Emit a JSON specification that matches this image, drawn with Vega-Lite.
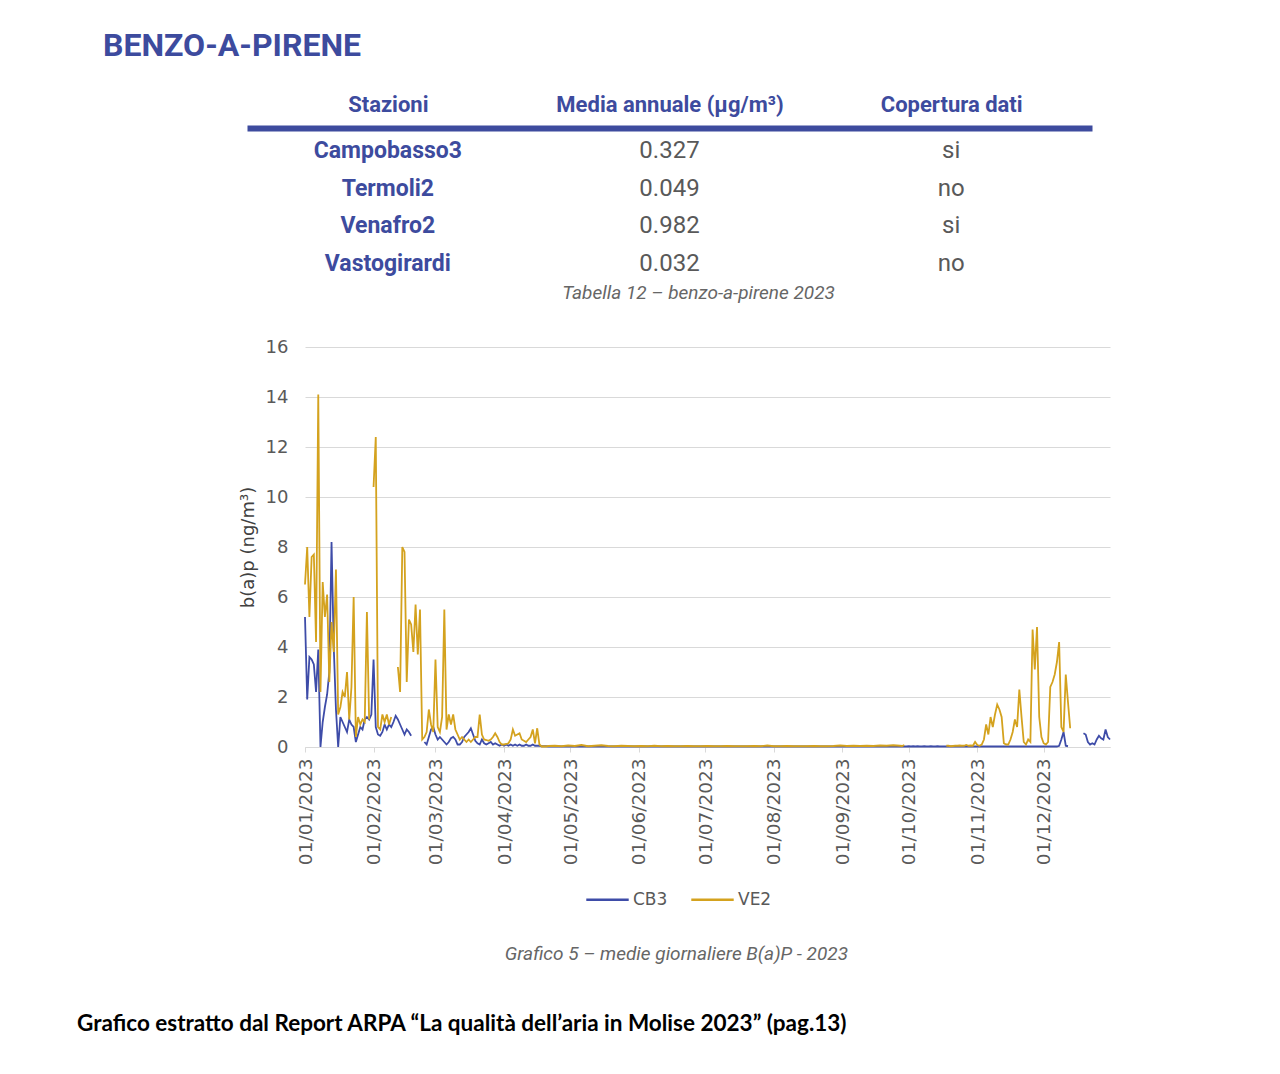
{
  "$schema": "https://vega.github.io/schema/vega-lite/v6.json",
  "background": "white",
  "padding": {"left": 77, "top": 30, "right": 20, "bottom": 20},
  "title": {
    "text": "Grafico estratto dal Report ARPA “La qualità dell’aria in Molise 2023” (pag.13)",
    "orient": "bottom", "anchor": "start", "font": "Lato", "fontWeight": "bold",
    "fontSize": 22.5, "color": "#000000", "offset": 49, "dx": -26
  },
  "vconcat": [
    {
      "title": {
        "text": "BENZO-A-PIRENE", "anchor": "start", "font": "Roboto", "fontWeight": "bold",
        "fontSize": 32, "color": "#3d4b9e", "dx": -136, "offset": 30
      },
      "columns": 1,
      "spacing": 35,
      "align": "none",
      "resolve": {"scale": {"color": "independent"}, "legend": {"color": "independent"}},
      "concat": [
        {
          "width": 787,
          "height": 159,
          "title": {
            "text": "Tabella 12 – benzo-a-pirene 2023", "orient": "bottom", "anchor": "middle",
            "font": "Roboto", "fontStyle": "italic", "fontWeight": "normal", "fontSize": 19,
            "color": "#666666", "offset": -3
          },
          "data": {"values": [
            {"Stazioni": "Campobasso3", "Media annuale (µg/m³)": "0.327", "Copertura dati": "si"},
            {"Stazioni": "Termoli2", "Media annuale (µg/m³)": "0.049", "Copertura dati": "no"},
            {"Stazioni": "Venafro2", "Media annuale (µg/m³)": "0.982", "Copertura dati": "si"},
            {"Stazioni": "Vastogirardi", "Media annuale (µg/m³)": "0.032", "Copertura dati": "no"}
          ]},
          "transform": [{"fold": ["Stazioni", "Media annuale (µg/m³)", "Copertura dati"], "as": ["colonna", "valore"]}],
          "encoding": {
            "x": {
              "field": "colonna", "type": "nominal",
              "sort": ["Stazioni", "Media annuale (µg/m³)", "Copertura dati"],
              "scale": {"type": "point", "padding": 0.5, "range": [-58, 787]},
              "axis": {
                "orient": "top", "title": null, "labelAngle": 0, "ticks": false, "grid": false,
                "domainWidth": 6, "domainColor": "#3d4b9e", "labelColor": "#3d4b9e", "labelLimit": 500,
                "labelFont": "Roboto", "labelFontWeight": "bold", "labelFontSize": 22, "labelPadding": 12
              }
            },
            "y": {"field": "Stazioni", "type": "nominal", "sort": null, "scale": {"type": "point", "padding": 0.61}, "axis": null},
            "text": {"field": "valore"}
          },
          "layer": [
            {
              "transform": [{"filter": "datum.colonna === 'Stazioni'"}],
              "mark": {"type": "text", "font": "Roboto", "fontWeight": "bold", "fontSize": 23, "color": "#3d4b9e"}
            },
            {
              "transform": [{"filter": "datum.colonna !== 'Stazioni'"}],
              "mark": {"type": "text", "font": "Roboto", "fontWeight": "normal", "fontSize": 24, "color": "#595959"}
            }
          ]
        },
        {
          "title": {
            "text": "Grafico 5 – medie giornaliere B(a)P - 2023", "orient": "bottom", "anchor": "middle",
            "font": "Roboto", "fontStyle": "italic", "fontWeight": "normal", "fontSize": 19,
            "color": "#666666", "offset": 37
          },
          "resolve": {"scale": {"color": "independent"}, "legend": {"color": "independent"}},
          "vconcat": [
            {
              "width": 805,
              "height": 400,
              "data": {"values": [
                {"d":"2023-01-01","CB3":5.2,"VE2":6.5},
                {"d":"2023-01-02","CB3":1.9,"VE2":8.0},
                {"d":"2023-01-03","CB3":3.6,"VE2":5.2},
                {"d":"2023-01-04","CB3":3.5,"VE2":7.6},
                {"d":"2023-01-05","CB3":3.3,"VE2":7.7},
                {"d":"2023-01-06","CB3":2.2,"VE2":4.2},
                {"d":"2023-01-07","CB3":3.9,"VE2":14.1},
                {"d":"2023-01-08","CB3":0.0,"VE2":2.2},
                {"d":"2023-01-09","CB3":1.0,"VE2":6.6},
                {"d":"2023-01-10","CB3":1.6,"VE2":5.2},
                {"d":"2023-01-11","CB3":2.1,"VE2":6.1},
                {"d":"2023-01-12","CB3":3.0,"VE2":2.6},
                {"d":"2023-01-13","CB3":8.2,"VE2":5.0},
                {"d":"2023-01-14","CB3":4.0,"VE2":3.8},
                {"d":"2023-01-15","CB3":1.5,"VE2":7.1},
                {"d":"2023-01-16","CB3":0.0,"VE2":1.3},
                {"d":"2023-01-17","CB3":1.2,"VE2":1.6},
                {"d":"2023-01-18","CB3":1.0,"VE2":2.2},
                {"d":"2023-01-19","CB3":0.8,"VE2":2.0},
                {"d":"2023-01-20","CB3":0.6,"VE2":3.0},
                {"d":"2023-01-21","CB3":1.1,"VE2":1.1},
                {"d":"2023-01-22","CB3":0.9,"VE2":2.4},
                {"d":"2023-01-23","CB3":0.8,"VE2":6.0},
                {"d":"2023-01-24","CB3":0.2,"VE2":0.4},
                {"d":"2023-01-25","CB3":0.5,"VE2":1.2},
                {"d":"2023-01-26","CB3":0.8,"VE2":0.9},
                {"d":"2023-01-27","CB3":0.7,"VE2":1.1},
                {"d":"2023-01-28","CB3":1.1,"VE2":1.0},
                {"d":"2023-01-29","CB3":1.2,"VE2":5.4},
                {"d":"2023-01-30","CB3":1.1,"VE2":1.1},
                {"d":"2023-01-31","CB3":1.3,"VE2":null},
                {"d":"2023-02-01","CB3":3.5,"VE2":10.4},
                {"d":"2023-02-02","CB3":0.8,"VE2":12.4},
                {"d":"2023-02-03","CB3":0.5,"VE2":0.8},
                {"d":"2023-02-04","CB3":0.45,"VE2":0.7},
                {"d":"2023-02-05","CB3":0.6,"VE2":1.3},
                {"d":"2023-02-06","CB3":0.9,"VE2":1.0},
                {"d":"2023-02-07","CB3":0.7,"VE2":1.3},
                {"d":"2023-02-08","CB3":0.9,"VE2":0.9},
                {"d":"2023-02-09","CB3":0.8,"VE2":1.2},
                {"d":"2023-02-10","CB3":1.0,"VE2":null},
                {"d":"2023-02-11","CB3":1.25,"VE2":null},
                {"d":"2023-02-12","CB3":1.1,"VE2":3.2},
                {"d":"2023-02-13","CB3":0.9,"VE2":2.2},
                {"d":"2023-02-14","CB3":0.7,"VE2":8.0},
                {"d":"2023-02-15","CB3":0.5,"VE2":7.8},
                {"d":"2023-02-16","CB3":0.7,"VE2":2.6},
                {"d":"2023-02-17","CB3":0.6,"VE2":5.1},
                {"d":"2023-02-18","CB3":0.45,"VE2":4.9},
                {"d":"2023-02-19","CB3":null,"VE2":3.8},
                {"d":"2023-02-20","CB3":null,"VE2":5.7},
                {"d":"2023-02-21","CB3":null,"VE2":3.7},
                {"d":"2023-02-22","CB3":null,"VE2":5.5},
                {"d":"2023-02-23","CB3":null,"VE2":0.3},
                {"d":"2023-02-24","CB3":0.2,"VE2":0.4},
                {"d":"2023-02-25","CB3":0.1,"VE2":0.6},
                {"d":"2023-02-26","CB3":0.4,"VE2":1.5},
                {"d":"2023-02-27","CB3":0.7,"VE2":0.9},
                {"d":"2023-02-28","CB3":0.8,"VE2":0.6},
                {"d":"2023-03-01","CB3":0.5,"VE2":3.5},
                {"d":"2023-03-02","CB3":0.3,"VE2":0.8},
                {"d":"2023-03-03","CB3":0.4,"VE2":0.6},
                {"d":"2023-03-04","CB3":0.3,"VE2":1.2},
                {"d":"2023-03-05","CB3":0.2,"VE2":5.5},
                {"d":"2023-03-06","CB3":0.1,"VE2":0.7},
                {"d":"2023-03-07","CB3":0.2,"VE2":1.3},
                {"d":"2023-03-08","CB3":0.35,"VE2":0.9},
                {"d":"2023-03-09","CB3":0.4,"VE2":1.3},
                {"d":"2023-03-10","CB3":0.3,"VE2":0.7},
                {"d":"2023-03-11","CB3":0.1,"VE2":0.5},
                {"d":"2023-03-12","CB3":0.1,"VE2":0.3},
                {"d":"2023-03-13","CB3":0.2,"VE2":0.4},
                {"d":"2023-03-14","CB3":0.4,"VE2":0.3},
                {"d":"2023-03-15","CB3":0.5,"VE2":0.2},
                {"d":"2023-03-16","CB3":0.6,"VE2":0.3},
                {"d":"2023-03-17","CB3":0.75,"VE2":0.2},
                {"d":"2023-03-18","CB3":0.5,"VE2":0.3},
                {"d":"2023-03-19","CB3":0.25,"VE2":0.4},
                {"d":"2023-03-20","CB3":0.15,"VE2":0.4},
                {"d":"2023-03-21","CB3":0.1,"VE2":1.3},
                {"d":"2023-03-22","CB3":0.3,"VE2":0.5},
                {"d":"2023-03-23","CB3":0.15,"VE2":0.3},
                {"d":"2023-03-24","CB3":0.1,"VE2":0.28},
                {"d":"2023-03-25","CB3":0.15,"VE2":0.25},
                {"d":"2023-03-26","CB3":0.2,"VE2":0.3},
                {"d":"2023-03-27","CB3":0.1,"VE2":0.4},
                {"d":"2023-03-28","CB3":0.15,"VE2":0.55},
                {"d":"2023-03-29","CB3":0.1,"VE2":0.4},
                {"d":"2023-03-30","CB3":0.05,"VE2":0.2},
                {"d":"2023-03-31","CB3":0.1,"VE2":0.1},
                {"d":"2023-04-01","CB3":0.05,"VE2":0.1},
                {"d":"2023-04-02","CB3":0.1,"VE2":0.12},
                {"d":"2023-04-03","CB3":0.05,"VE2":0.15},
                {"d":"2023-04-04","CB3":0.1,"VE2":0.3},
                {"d":"2023-04-05","CB3":0.05,"VE2":0.7},
                {"d":"2023-04-06","CB3":0.1,"VE2":0.45},
                {"d":"2023-04-07","CB3":0.05,"VE2":0.5},
                {"d":"2023-04-08","CB3":0.1,"VE2":0.55},
                {"d":"2023-04-09","CB3":0.05,"VE2":0.3},
                {"d":"2023-04-10","CB3":0.05,"VE2":0.25},
                {"d":"2023-04-11","CB3":0.1,"VE2":0.2},
                {"d":"2023-04-12","CB3":0.05,"VE2":0.3},
                {"d":"2023-04-13","CB3":0.05,"VE2":0.4},
                {"d":"2023-04-14","CB3":0.1,"VE2":0.7},
                {"d":"2023-04-15","CB3":0.05,"VE2":0.15},
                {"d":"2023-04-16","CB3":0.05,"VE2":0.75},
                {"d":"2023-04-17","CB3":0.05,"VE2":0.1},
                {"d":"2023-04-18","CB3":0.03,"VE2":0.02},
                {"d":"2023-04-19","CB3":0.03,"VE2":0.03},
                {"d":"2023-04-20","CB3":0.03,"VE2":0.02},
                {"d":"2023-04-21","CB3":0.02,"VE2":0.04},
                {"d":"2023-04-24","CB3":0.02,"VE2":0.05},
                {"d":"2023-04-27","CB3":0.02,"VE2":0.03},
                {"d":"2023-04-30","CB3":0.02,"VE2":0.06},
                {"d":"2023-05-03","CB3":0.02,"VE2":0.04},
                {"d":"2023-05-06","CB3":0.02,"VE2":0.08},
                {"d":"2023-05-09","CB3":0.02,"VE2":0.03},
                {"d":"2023-05-12","CB3":0.02,"VE2":0.05},
                {"d":"2023-05-15","CB3":0.02,"VE2":0.07},
                {"d":"2023-05-18","CB3":0.02,"VE2":0.04},
                {"d":"2023-05-21","CB3":0.02,"VE2":0.03},
                {"d":"2023-05-24","CB3":0.02,"VE2":0.05},
                {"d":"2023-05-27","CB3":0.02,"VE2":0.04},
                {"d":"2023-05-30","CB3":0.02,"VE2":0.03},
                {"d":"2023-06-02","CB3":0.02,"VE2":0.04},
                {"d":"2023-06-05","CB3":0.02,"VE2":0.03},
                {"d":"2023-06-08","CB3":0.02,"VE2":0.05},
                {"d":"2023-06-11","CB3":0.02,"VE2":0.03},
                {"d":"2023-06-14","CB3":0.02,"VE2":0.04},
                {"d":"2023-06-17","CB3":0.02,"VE2":0.03},
                {"d":"2023-06-20","CB3":0.02,"VE2":0.03},
                {"d":"2023-06-23","CB3":0.02,"VE2":0.04},
                {"d":"2023-06-26","CB3":0.02,"VE2":0.03},
                {"d":"2023-06-29","CB3":0.02,"VE2":0.03},
                {"d":"2023-07-02","CB3":0.02,"VE2":0.04},
                {"d":"2023-07-05","CB3":0.02,"VE2":0.03},
                {"d":"2023-07-08","CB3":0.02,"VE2":0.03},
                {"d":"2023-07-11","CB3":0.02,"VE2":0.04},
                {"d":"2023-07-14","CB3":0.02,"VE2":0.03},
                {"d":"2023-07-17","CB3":0.02,"VE2":0.03},
                {"d":"2023-07-20","CB3":0.02,"VE2":0.03},
                {"d":"2023-07-23","CB3":0.02,"VE2":0.04},
                {"d":"2023-07-26","CB3":0.02,"VE2":0.03},
                {"d":"2023-07-29","CB3":0.02,"VE2":0.06},
                {"d":"2023-08-01","CB3":0.02,"VE2":0.03},
                {"d":"2023-08-04","CB3":0.02,"VE2":0.03},
                {"d":"2023-08-07","CB3":0.02,"VE2":0.04},
                {"d":"2023-08-10","CB3":0.02,"VE2":0.03},
                {"d":"2023-08-13","CB3":0.02,"VE2":0.03},
                {"d":"2023-08-16","CB3":0.02,"VE2":0.03},
                {"d":"2023-08-19","CB3":0.02,"VE2":0.04},
                {"d":"2023-08-22","CB3":0.02,"VE2":0.03},
                {"d":"2023-08-25","CB3":0.02,"VE2":0.03},
                {"d":"2023-08-28","CB3":0.02,"VE2":0.04},
                {"d":"2023-08-31","CB3":0.02,"VE2":0.06},
                {"d":"2023-09-03","CB3":0.02,"VE2":0.04},
                {"d":"2023-09-06","CB3":0.02,"VE2":0.05},
                {"d":"2023-09-09","CB3":0.02,"VE2":0.04},
                {"d":"2023-09-12","CB3":0.02,"VE2":0.05},
                {"d":"2023-09-15","CB3":0.02,"VE2":0.04},
                {"d":"2023-09-18","CB3":0.02,"VE2":0.06},
                {"d":"2023-09-21","CB3":0.02,"VE2":0.05},
                {"d":"2023-09-24","CB3":0.02,"VE2":0.07},
                {"d":"2023-09-27","CB3":0.02,"VE2":0.05},
                {"d":"2023-09-28","CB3":0.02,"VE2":0.04},
                {"d":"2023-09-29","CB3":0.02,"VE2":0.08},
                {"d":"2023-09-30","CB3":0.02,"VE2":null},
                {"d":"2023-10-01","CB3":0.03,"VE2":null},
                {"d":"2023-10-02","CB3":0.02,"VE2":null},
                {"d":"2023-10-03","CB3":0.03,"VE2":null},
                {"d":"2023-10-04","CB3":0.02,"VE2":null},
                {"d":"2023-10-05","CB3":0.03,"VE2":null},
                {"d":"2023-10-06","CB3":0.02,"VE2":null},
                {"d":"2023-10-07","CB3":0.02,"VE2":null},
                {"d":"2023-10-08","CB3":0.03,"VE2":null},
                {"d":"2023-10-09","CB3":0.02,"VE2":null},
                {"d":"2023-10-10","CB3":0.02,"VE2":null},
                {"d":"2023-10-11","CB3":0.03,"VE2":null},
                {"d":"2023-10-12","CB3":0.02,"VE2":null},
                {"d":"2023-10-13","CB3":0.02,"VE2":null},
                {"d":"2023-10-14","CB3":0.03,"VE2":null},
                {"d":"2023-10-15","CB3":0.02,"VE2":null},
                {"d":"2023-10-16","CB3":0.02,"VE2":null},
                {"d":"2023-10-17","CB3":0.02,"VE2":null},
                {"d":"2023-10-18","CB3":0.02,"VE2":0.05},
                {"d":"2023-10-19","CB3":0.02,"VE2":0.05},
                {"d":"2023-10-20","CB3":0.02,"VE2":0.03},
                {"d":"2023-10-21","CB3":0.02,"VE2":0.04},
                {"d":"2023-10-22","CB3":0.02,"VE2":0.05},
                {"d":"2023-10-23","CB3":0.02,"VE2":0.05},
                {"d":"2023-10-24","CB3":0.02,"VE2":0.06},
                {"d":"2023-10-25","CB3":0.02,"VE2":0.05},
                {"d":"2023-10-26","CB3":0.02,"VE2":0.05},
                {"d":"2023-10-27","CB3":0.02,"VE2":0.08},
                {"d":"2023-10-28","CB3":0.02,"VE2":0.05},
                {"d":"2023-10-29","CB3":0.02,"VE2":0.06},
                {"d":"2023-10-30","CB3":0.02,"VE2":0.05},
                {"d":"2023-10-31","CB3":0.02,"VE2":0.2},
                {"d":"2023-11-01","CB3":0.02,"VE2":0.08},
                {"d":"2023-11-02","CB3":0.02,"VE2":0.05},
                {"d":"2023-11-03","CB3":0.02,"VE2":0.1},
                {"d":"2023-11-04","CB3":0.02,"VE2":0.3},
                {"d":"2023-11-05","CB3":0.02,"VE2":0.9},
                {"d":"2023-11-06","CB3":0.02,"VE2":0.5},
                {"d":"2023-11-07","CB3":0.02,"VE2":1.2},
                {"d":"2023-11-08","CB3":0.02,"VE2":0.8},
                {"d":"2023-11-09","CB3":0.02,"VE2":1.3},
                {"d":"2023-11-10","CB3":0.02,"VE2":1.7},
                {"d":"2023-11-11","CB3":0.02,"VE2":1.5},
                {"d":"2023-11-12","CB3":0.02,"VE2":1.2},
                {"d":"2023-11-13","CB3":0.02,"VE2":0.15},
                {"d":"2023-11-14","CB3":0.02,"VE2":0.1},
                {"d":"2023-11-15","CB3":0.02,"VE2":0.1},
                {"d":"2023-11-16","CB3":0.02,"VE2":0.3},
                {"d":"2023-11-17","CB3":0.02,"VE2":0.6},
                {"d":"2023-11-18","CB3":0.02,"VE2":1.1},
                {"d":"2023-11-19","CB3":0.02,"VE2":0.8},
                {"d":"2023-11-20","CB3":0.02,"VE2":2.3},
                {"d":"2023-11-21","CB3":0.02,"VE2":1.2},
                {"d":"2023-11-22","CB3":0.02,"VE2":0.2},
                {"d":"2023-11-23","CB3":0.02,"VE2":0.1},
                {"d":"2023-11-24","CB3":0.02,"VE2":0.3},
                {"d":"2023-11-25","CB3":0.02,"VE2":0.2},
                {"d":"2023-11-26","CB3":0.02,"VE2":4.7},
                {"d":"2023-11-27","CB3":0.02,"VE2":3.1},
                {"d":"2023-11-28","CB3":0.02,"VE2":4.8},
                {"d":"2023-11-29","CB3":0.02,"VE2":1.2},
                {"d":"2023-11-30","CB3":0.02,"VE2":0.4},
                {"d":"2023-12-01","CB3":0.02,"VE2":0.15},
                {"d":"2023-12-02","CB3":0.02,"VE2":0.1},
                {"d":"2023-12-03","CB3":0.02,"VE2":0.2},
                {"d":"2023-12-04","CB3":0.02,"VE2":2.4},
                {"d":"2023-12-05","CB3":0.02,"VE2":2.6},
                {"d":"2023-12-06","CB3":0.02,"VE2":2.9},
                {"d":"2023-12-07","CB3":0.02,"VE2":3.4},
                {"d":"2023-12-08","CB3":0.05,"VE2":4.2},
                {"d":"2023-12-09","CB3":0.3,"VE2":0.8},
                {"d":"2023-12-10","CB3":0.6,"VE2":0.6},
                {"d":"2023-12-11","CB3":0.05,"VE2":2.9},
                {"d":"2023-12-12","CB3":0.03,"VE2":1.8},
                {"d":"2023-12-13","CB3":null,"VE2":0.75},
                {"d":"2023-12-14","CB3":null,"VE2":null},
                {"d":"2023-12-15","CB3":null,"VE2":null},
                {"d":"2023-12-16","CB3":null,"VE2":null},
                {"d":"2023-12-17","CB3":null,"VE2":null},
                {"d":"2023-12-18","CB3":null,"VE2":null},
                {"d":"2023-12-19","CB3":0.55,"VE2":null},
                {"d":"2023-12-20","CB3":0.5,"VE2":null},
                {"d":"2023-12-21","CB3":0.2,"VE2":null},
                {"d":"2023-12-22","CB3":0.1,"VE2":null},
                {"d":"2023-12-23","CB3":0.15,"VE2":null},
                {"d":"2023-12-24","CB3":0.1,"VE2":null},
                {"d":"2023-12-25","CB3":0.3,"VE2":null},
                {"d":"2023-12-26","CB3":0.45,"VE2":null},
                {"d":"2023-12-27","CB3":0.35,"VE2":null},
                {"d":"2023-12-28","CB3":0.3,"VE2":null},
                {"d":"2023-12-29","CB3":0.7,"VE2":null},
                {"d":"2023-12-30","CB3":0.4,"VE2":null},
                {"d":"2023-12-31","CB3":0.3,"VE2":null}
              ]},
              "transform": [{"fold": ["CB3", "VE2"], "as": ["serie", "valore"]}],
              "mark": {"type": "line", "strokeWidth": 1.8, "invalid": "break-paths-filter-domains"},
              "encoding": {
                "x": {
                  "field": "d", "type": "temporal",
                  "scale": {"type": "utc", "domain": [{"year": 2023, "month": 1, "date": 1, "utc": true}, {"year": 2023, "month": 12, "date": 31, "utc": true}]},
                  "axis": {
                    "title": null, "format": "%d/%m/%Y",
                    "tickCount": {"interval": "month", "step": 1},
                    "labelAngle": -90, "labelFont": "DejaVu Sans", "labelFontSize": 18.5, "labelColor": "#595959",
                    "labelPadding": 6, "grid": false, "ticks": true, "tickSize": 5, "tickColor": "#d9d9d9",
                    "domain": true, "domainColor": "#d9d9d9", "labelFlush": false, "labelOverlap": false
                  }
                },
                "y": {
                  "field": "valore", "type": "quantitative",
                  "scale": {"domain": [0, 16]},
                  "axis": {
                    "title": "b(a)p (ng/m³)", "values": [0, 2, 4, 6, 8, 10, 12, 14, 16],
                    "grid": true, "gridColor": "#d9d9d9", "domain": false, "ticks": false,
                    "labelFont": "DejaVu Sans", "labelFontSize": 18, "labelColor": "#595959", "labelPadding": 17,
                    "titleFont": "DejaVu Sans", "titleFontSize": 18, "titleFontWeight": "normal", "titleColor": "#404040",
                    "titlePadding": 8
                  }
                },
                "color": {
                  "field": "serie", "type": "nominal",
                  "scale": {"domain": ["CB3", "VE2"], "range": ["#3e4ca8", "#d4a21e"]},
                  "legend": {
                    "orient": "none", "legendX": 280, "legendY": 530,
                    "title": null, "direction": "horizontal",
                    "labelFont": "DejaVu Sans", "labelFontSize": 17, "labelColor": "#595959",
                    "symbolSize": 1800, "symbolStrokeWidth": 2.5, "columnPadding": 18, "labelOffset": 3
                  }
                }
              }
            }
          ]
        }
      ]
    }
  ],
  "config": {
    "view": {"stroke": null}
  }
}
